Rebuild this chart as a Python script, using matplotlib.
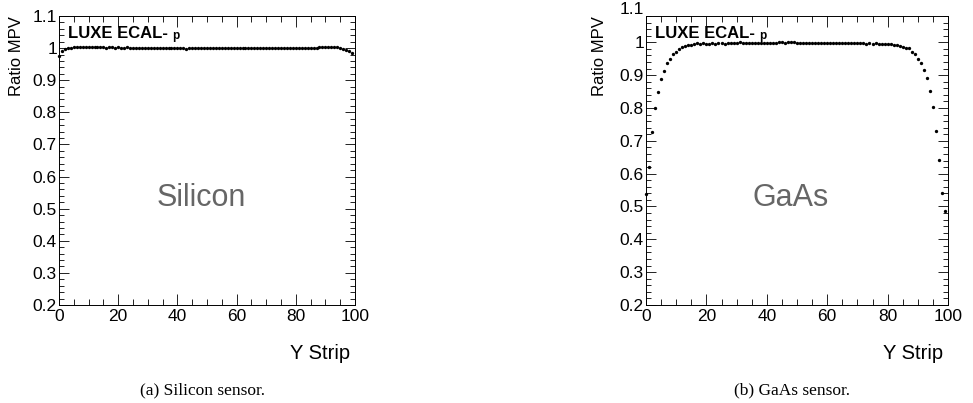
import numpy as np
import matplotlib
matplotlib.use("Agg")
from matplotlib import pyplot as plt
from matplotlib.ticker import MultipleLocator, FixedLocator, FixedFormatter

plt.rcParams['font.family'] = ['Liberation Sans', 'DejaVu Sans']

# strip index and MPV ratio per strip
strips = list(range(100))

silicon = [
    0.976, 0.992, 0.996, 0.999, 1.001, 1.002, 1.002, 1.003, 1.003, 1.003,
    1.002, 1.003, 1.003, 1.002, 1.003, 1.002, 1.001, 1.002, 1.002, 1.001,
    1.002, 1.001, 1.001, 1.002, 1.001, 0.999, 0.999, 1.000, 0.999, 1.000,
    1.001, 1.000, 0.999, 1.000, 1.000, 0.999, 1.001, 1.000, 0.999, 1.000,
    1.001, 0.999, 0.999, 0.998, 1.000, 0.999, 1.000, 1.001, 0.999, 1.000,
    1.000, 0.999, 1.000, 0.999, 0.999, 1.000, 1.000, 0.999, 1.000, 1.001,
    0.999, 1.000, 0.999, 0.999, 1.000, 1.000, 0.999, 0.999, 1.000, 1.001,
    1.000, 0.999, 1.000, 1.000, 0.999, 0.999, 1.000, 1.000, 0.999, 1.000,
    1.001, 1.000, 1.000, 1.001, 1.000, 1.001, 1.000, 1.001, 1.002, 1.002,
    1.003, 1.003, 1.002, 1.002, 1.002, 1.001, 0.998, 0.995, 0.991, 0.985,
]

gaas = [
    0.538, 0.620, 0.726, 0.801, 0.850, 0.888, 0.914, 0.936, 0.950, 0.963,
    0.971, 0.979, 0.985, 0.988, 0.991, 0.992, 0.995, 0.997, 0.996, 0.997,
    0.996, 0.996, 0.997, 0.996, 0.997, 0.997, 0.996, 0.997, 0.998, 0.997,
    0.998, 1.001, 0.998, 0.998, 0.997, 0.999, 0.998, 0.998, 0.999, 0.998,
    0.999, 0.999, 0.998, 0.999, 1.000, 1.000, 0.999, 1.000, 1.001, 1.000,
    0.999, 0.999, 0.998, 0.998, 0.997, 0.998, 0.999, 0.998, 0.998, 0.999,
    0.998, 0.997, 0.998, 0.998, 0.997, 0.998, 0.998, 0.997, 0.998, 0.998,
    0.997, 0.998, 0.997, 0.996, 0.997, 0.996, 0.997, 0.996, 0.995, 0.996,
    0.995, 0.995, 0.992, 0.993, 0.990, 0.985, 0.983, 0.983, 0.970, 0.963,
    0.950, 0.936, 0.915, 0.890, 0.853, 0.804, 0.731, 0.641, 0.542, 0.485,
]

panels = [
    # name, data, caption, ymax, axes rect, ylabel x
    ("Silicon", silicon, "(a) Silicon sensor.", 1.1, [59 / 973, 98 / 403, 296 / 973, 289 / 403], -0.118),
    ("GaAs", gaas, "(b) GaAs sensor.", 1.08, [646 / 973, 98 / 403, 302 / 973, 289 / 403], -0.129),
]

ytick_vals = [0.2, 0.3, 0.4, 0.5, 0.6, 0.7, 0.8, 0.9, 1.0, 1.1]
ytick_labels = ["0.2", "0.3", "0.4", "0.5", "0.6", "0.7", "0.8", "0.9", "1", "1.1"]

fig = plt.figure(figsize=(9.73, 4.03), dpi=100)

for name, vals, caption, ymax, rect, ylab_x in panels:
    ax = fig.add_axes(rect)
    ax.plot(strips, vals, 'o', color='black', markersize=2.4, markeredgewidth=0,
            clip_on=False, zorder=3)
    ax.set_xlim(0, 100)
    ax.set_ylim(0.2, ymax)

    # ROOT-like ticks: inside, on every side
    ax.xaxis.set_major_locator(MultipleLocator(20))
    ax.xaxis.set_minor_locator(MultipleLocator(5))
    ax.yaxis.set_major_locator(FixedLocator(ytick_vals))
    ax.yaxis.set_major_formatter(FixedFormatter(ytick_labels))
    ax.yaxis.set_minor_locator(MultipleLocator(0.02))
    ax.tick_params(which='both', direction='in', top=True, right=True, width=0.7,
                   labelsize=12.5, color='#222222')
    ax.tick_params(axis='x', which='major', length=8, pad=3)
    ax.tick_params(axis='x', which='minor', length=4)
    ax.tick_params(axis='y', which='major', length=7, pad=1.5)
    ax.tick_params(axis='y', which='minor', length=3.5)
    for sp in ax.spines.values():
        sp.set_linewidth(0.7)

    # tick label 1.1 sits above the frame when the range stops short of it
    if ymax < 1.1:
        ax.text(-0.006, 1.1, "1.1", transform=ax.get_yaxis_transform(),
                ha='right', va='center', fontsize=12.5, clip_on=False)

    ax.set_ylabel("Ratio MPV", fontsize=12, loc='top')
    ax.yaxis.set_label_coords(ylab_x, 1.0)
    ax.set_xlabel("Y Strip", fontsize=14.5, loc='right')
    ax.xaxis.set_label_coords(0.985, -0.135)

    t1 = ax.text(0.03, 0.925, "LUXE ECAL-", transform=ax.transAxes, fontsize=12,
                 fontweight='bold', va='baseline')
    ax.annotate("p", xy=(1, 0), xycoords=t1, xytext=(3, 1.5),
                textcoords='offset points', fontsize=8.5, fontweight='bold',
                va='baseline')

    ax.text(0.48, 0.37, name, transform=ax.transAxes, fontsize=22,
            color='#666666', ha='center', va='center')

    cx = rect[0] + rect[2] / 2 - 0.005
    fig.text(cx, 1 - 390 / 403, caption, family='Liberation Serif', fontsize=12.5,
             ha='center', va='center')

plt.savefig("out.png", dpi=100)
